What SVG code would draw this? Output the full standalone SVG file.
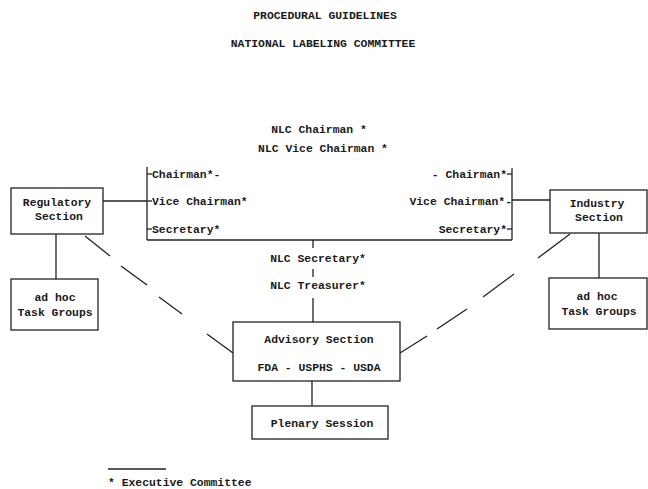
<svg xmlns="http://www.w3.org/2000/svg" width="648" height="489" viewBox="0 0 648 489">
<style>
text{font-family:"Liberation Mono","DejaVu Sans Mono",monospace;font-weight:bold;font-size:11.4px;fill:#1a1a1a}
.c{text-anchor:middle}
.e{text-anchor:end}
.box{fill:#fff;stroke:#222;stroke-width:1.3}
.ln{stroke:#222;stroke-width:1.3;fill:none}
.dash{stroke:#222;stroke-width:1.3;fill:none}
</style>
<rect width="648" height="489" fill="#fff"/>
<g id="title">
<text class="c" x="325" y="19">PROCEDURAL GUIDELINES</text>
<text class="c" x="323" y="47">NATIONAL LABELING COMMITTEE</text>
</g>
<g id="connectors">
<line class="ln" x1="103" y1="201" x2="147" y2="201"/>
<line class="ln" x1="147" y1="167" x2="147" y2="240"/>
<line class="ln" x1="147" y1="240" x2="512" y2="240"/>
<line class="ln" x1="512" y1="168" x2="512" y2="240"/>
<line class="ln" x1="512" y1="200" x2="550" y2="200"/>
<line class="ln" x1="147" y1="174" x2="152" y2="174"/>
<line class="ln" x1="147" y1="201" x2="152" y2="201"/>
<line class="ln" x1="147" y1="229" x2="152" y2="229"/>
<line class="ln" x1="507" y1="174" x2="512" y2="174"/>
<line class="ln" x1="507" y1="229" x2="512" y2="229"/>
<line class="ln" x1="313" y1="240" x2="313" y2="248"/>
<line class="ln" x1="313" y1="269" x2="313" y2="277"/>
<line class="ln" x1="313" y1="298" x2="313" y2="322"/>
<line class="ln" x1="312" y1="381" x2="312" y2="406"/>
<line class="ln" x1="56" y1="234" x2="56" y2="279"/>
<line class="ln" x1="599" y1="233" x2="599" y2="278"/>
<path class="dash" d="M85,236 L110,256 M121,266 L147,285 M159,297 L182,314 M207,334 L233,353"/>
<path class="dash" d="M570,234 L538,258 M514,274 L483,297 M467,309 L437,329 M427,336 L400,353"/>
<line class="ln" x1="108" y1="469" x2="166" y2="469"/>
</g>
<g id="nlc-officers">
<text class="c" x="319" y="133">NLC Chairman *</text>
<text class="c" x="323" y="152">NLC Vice Chairman *</text>
<text class="c" x="318" y="262">NLC Secretary*</text>
<text class="c" x="318" y="289">NLC Treasurer*</text>
</g>
<g id="regulatory-officers">
<text x="152" y="178">Chairman*-</text>
<text x="152" y="205">Vice Chairman*</text>
<text x="152" y="233">Secretary*</text>
</g>
<g id="industry-officers">
<text class="e" x="507" y="178">- Chairman*</text>
<text class="e" x="512" y="205">Vice Chairman*-</text>
<text class="e" x="507" y="233">Secretary*</text>
</g>
<g id="regulatory">
<rect class="box" x="11" y="188" width="92" height="46"/>
<text class="c" x="57" y="206">Regulatory</text>
<text class="c" x="59" y="220">Section</text>
</g>
<g id="industry">
<rect class="box" x="550" y="190" width="97" height="43"/>
<text class="c" x="597" y="207">Industry</text>
<text class="c" x="599" y="221">Section</text>
</g>
<g id="adhoc-left">
<rect class="box" x="11" y="279" width="87" height="51"/>
<text class="c" x="55" y="301">ad hoc</text>
<text class="c" x="55" y="316">Task Groups</text>
</g>
<g id="adhoc-right">
<rect class="box" x="549" y="278" width="98" height="51"/>
<text class="c" x="597" y="300">ad hoc</text>
<text class="c" x="599" y="315">Task Groups</text>
</g>
<g id="advisory">
<rect class="box" x="233" y="322" width="167" height="59"/>
<text class="c" x="319" y="343">Advisory Section</text>
<text class="c" x="319" y="371">FDA - USPHS - USDA</text>
</g>
<g id="plenary">
<rect class="box" x="252" y="406" width="136" height="33"/>
<text class="c" x="322" y="427">Plenary Session</text>
</g>
<g id="footnote">
<text x="108" y="486">* Executive Committee</text>
</g>
</svg>
